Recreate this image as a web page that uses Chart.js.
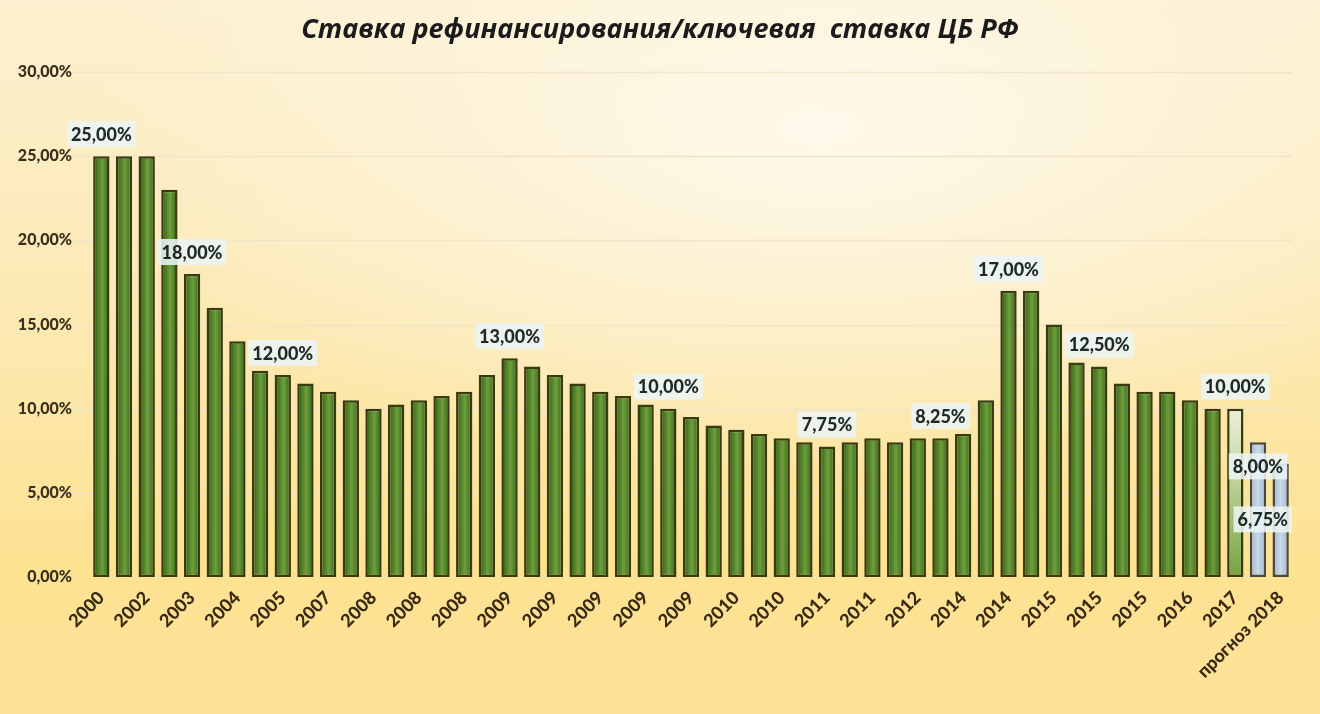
<!DOCTYPE html>
<html>
<head>
<meta charset="utf-8">
<script src="https://cdn.jsdelivr.net/npm/chart.js@4"></script>
<style>
  html, body { margin: 0; padding: 0; }
  body {
    width: 1320px; height: 714px; overflow: hidden;
    background:
      radial-gradient(ellipse 70% 60% at 62% 18%, rgba(253,249,236,0.95) 0%, rgba(253,246,225,0.55) 45%, rgba(253,240,200,0) 80%),
      linear-gradient(180deg, #fcf0d0 0%, #fce9b2 45%, #fde292 80%, #fde399 100%);
  }
  #wrap { position: relative; width: 1320px; height: 714px; }
</style>
</head>
<body>
<div id="wrap"><canvas id="myChart" width="1320" height="714"></canvas></div>
<script>
const title = 'Ставка рефинансирования/ключевая  ставка ЦБ РФ'

// tick labels under every second bar
const years = ['2000', '2002', '2003', '2004', '2005', '2007', '2008', '2008', '2008',
  '2009', '2009', '2009', '2009', '2009', '2010', '2010', '2011', '2011', '2012',
  '2014', '2014', '2015', '2015', '2015', '2016', '2017', 'прогноз 2018']

// rate, % (one per bar)
const rates = [25, 25, 25, 23, 18, 16, 14, 12.25, 12, 11.5,
  11, 10.5, 10, 10.25, 10.5, 10.75, 11, 12, 13, 12.5,
  12, 11.5, 11, 10.75, 10.25, 10, 9.5, 9, 8.75, 8.5,
  8.25, 8, 7.75, 8, 8.25, 8, 8.25, 8.25, 8.5, 10.5,
  17, 17, 15, 12.75, 12.5, 11.5, 11, 11, 10.5, 10,
  10, 8, 6.75]

// which bars carry a value label
const labeled = [0, 4, 8, 18, 25, 32, 37, 40, 44, 50, 51, 52]
// 0 = fact, 1 = estimate (light bar), 2 = forecast (blue bar)
const kind = rates.map((v, i) => i == 50 ? 1 : (i >= 51 ? 2 : 0))

let labels = rates.map((v, i) => i % 2 == 0 ? years[i / 2] : '')

const fmt = v => v.toFixed(2).replace('.', ',') + '%'
const numFont = "Lato, 'Open Sans', sans-serif"

function barFill(context) {
  const chart = context.chart
  const {ctx, chartArea, scales} = chart
  const k = kind[context.dataIndex]
  if (!chartArea) return '#5a8a2e'
  const xs = scales.x
  const half = xs.width / rates.length * 0.72 / 2
  const cx = xs.getPixelForValue(context.dataIndex)
  if (k == 2) {
    const g = ctx.createLinearGradient(cx - half, 0, cx + half, 0)
    g.addColorStop(0, '#9fb4cc')
    g.addColorStop(0.5, '#c9d9ea')
    g.addColorStop(1, '#9fb4cc')
    return g
  }
  if (k == 1) {
    const g = ctx.createLinearGradient(0, scales.y.getPixelForValue(rates[context.dataIndex]), 0, chartArea.bottom)
    g.addColorStop(0, '#eef0dc')
    g.addColorStop(0.35, '#c8d9a4')
    g.addColorStop(1, '#76a242')
    return g
  }
  const g = ctx.createLinearGradient(cx - half, 0, cx + half, 0)
  g.addColorStop(0, '#2f5614')
  g.addColorStop(0.3, '#4f8026')
  g.addColorStop(0.55, '#6e9e3e')
  g.addColorStop(0.8, '#4d7d25')
  g.addColorStop(1, '#2f5614')
  return g
}

// faint horizontal grid lines that start left of the first bar
const gridPlugin = {
  id: 'grid',
  beforeDatasetsDraw(chart) {
    const {ctx, chartArea, scales} = chart
    ctx.save()
    ctx.strokeStyle = 'rgba(240,228,200,0.95)'
    ctx.lineWidth = 1.5
    scales.y.ticks.forEach(t => {
      if (t.value == 0) return
      const y = Math.round(scales.y.getPixelForValue(t.value)) + 0.5
      ctx.beginPath()
      ctx.moveTo(72, y)
      ctx.lineTo(chartArea.right, y)
      ctx.stroke()
    })
    ctx.restore()
  }
}

// title centred on the whole picture, not on the plot
const titlePlugin = {
  id: 'pageTitle',
  afterDraw(chart) {
    const ctx = chart.ctx
    ctx.save()
    ctx.font = "italic bold 27px 'Open Sans', sans-serif"
    ctx.fillStyle = '#1b1b1b'
    ctx.textAlign = 'center'
    ctx.textBaseline = 'middle'
    ctx.fillText(title, chart.width / 2, 30)
    ctx.restore()
  }
}

// boxed value labels
const valuePlugin = {
  id: 'values',
  afterDatasetsDraw(chart) {
    const {ctx, chartArea} = chart
    const meta = chart.getDatasetMeta(0)
    ctx.save()
    ctx.font = '900 18px ' + numFont
    ctx.textAlign = 'center'
    ctx.textBaseline = 'middle'
    labeled.forEach(i => {
      const bar = meta.data[i]
      const txt = fmt(rates[i])
      const w = ctx.measureText(txt).width + 8
      const h = 26
      let x = bar.x
      let y = bar.y - 22
      if (i == 51) y = bar.y + 24
      if (i == 52) y = bar.y + 56
      if (x + w / 2 > chartArea.right) x = chartArea.right - w / 2
      ctx.fillStyle = 'rgba(236,244,242,0.88)'
      ctx.fillRect(x - w / 2, y - h / 2, w, h)
      ctx.fillStyle = '#1d2a2a'
      ctx.fillText(txt, x, y + 1)
    })
    ctx.restore()
  }
}

new Chart(document.getElementById('myChart'), {
  type: 'bar',
  data: {
    labels: labels,
    datasets: [{
      data: rates,
      backgroundColor: barFill,
      borderColor: rates.map((v, i) => kind[i] == 2 ? '#4a4a42' : '#3a3a10'),
      borderWidth: 2.5,
      borderSkipped: false,
      categoryPercentage: 1,
      barPercentage: 0.72,
    }]
  },
  options: {
    responsive: false,
    animation: false,
    layout: {padding: {top: 72, right: 28, left: 0, bottom: 0}},
    plugins: {
      legend: {display: false},
      tooltip: {enabled: false},
      title: {display: false}
    },
    scales: {
      x: {
        grid: {display: false},
        border: {display: false},
        ticks: {
          autoSkip: false,
          maxRotation: 45,
          minRotation: 45,
          color: '#3a2a10',
          padding: 2,
          font: {family: numFont, size: 18, weight: '900'}
        },
        afterFit: (scale) => { scale.height = 137 }
      },
      y: {
        min: 0,
        max: 30,
        grid: {display: false, drawTicks: false},
        border: {display: false},
        ticks: {
          stepSize: 5,
          padding: 18,
          color: '#3a2f1a',
          font: {family: numFont, size: 16, weight: '900'},
          callback: (v) => fmt(v)
        },
        afterFit: (scale) => { scale.width = 90 }
      }
    }
  },
  plugins: [gridPlugin, valuePlugin, titlePlugin]
});
</script>
</body>
</html>
